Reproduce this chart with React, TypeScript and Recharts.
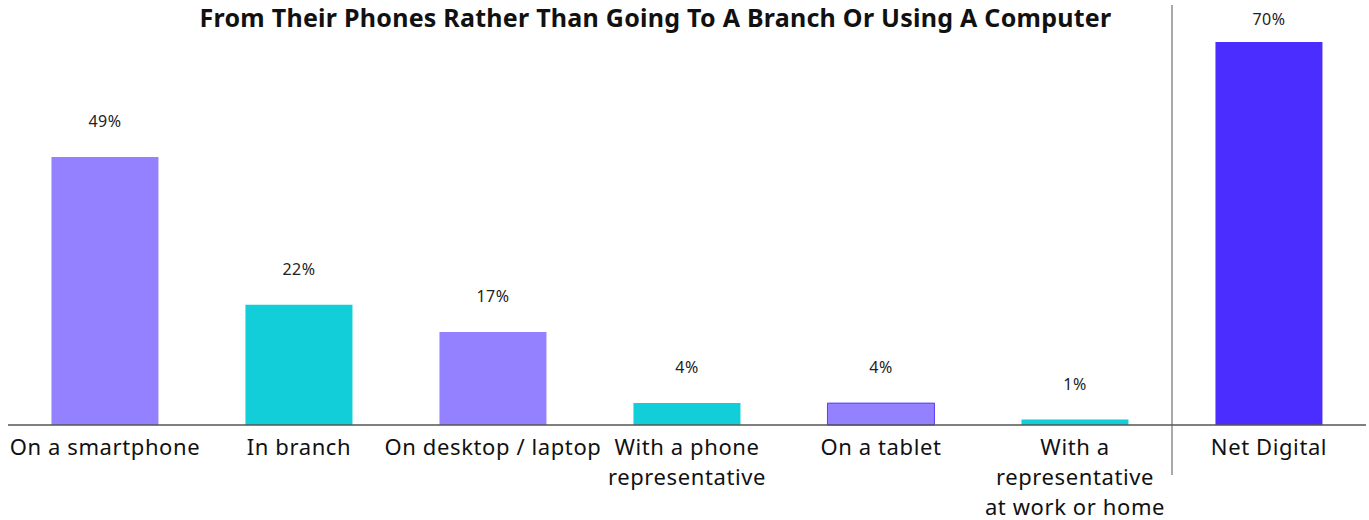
import React from "react";
import { Bar, BarChart, Cell, LabelList, ReferenceLine, XAxis, YAxis } from "recharts";

const categories = [
  ["On a smartphone"],
  ["In branch"],
  ["On desktop / laptop"],
  ["With a phone", "representative"],
  ["On a tablet"],
  ["With a", "representative", "at work or home"],
  ["Net Digital"],
];
const shares = [49, 22, 17, 4, 4, 1, 70];
const barColors = ["#9381FF", "#11CED8", "#9381FF", "#11CED8", "#9381FF", "#11CED8", "#4B2EFF"];
const barStrokes = ["none", "none", "none", "none", "#5B3DF5", "none", "none"];

const TITLE = "From Their Phones Rather Than Going To A Branch Or Using A Computer";
const FONT = "'Noto Sans', sans-serif";

const data = categories.map((lines, i) => ({ name: lines.join(" "), lines, value: shares[i] }));

function Tick({ x, y, payload }: any) {
  const row = data.find((d) => d.name === payload.value);
  const lines = row ? row.lines : [payload.value];
  return (
    <text x={x} y={y} textAnchor="middle" fontFamily={FONT} fontSize={22} letterSpacing={0.6} fill="#111">
      {lines.map((l: string, i: number) => (
        <tspan key={i} x={x} dy={i === 0 ? 22 : 30}>
          {l}
        </tspan>
      ))}
    </text>
  );
}

function ValueLabel({ x, y, width, value }: any) {
  return (
    <text
      x={x + width / 2}
      y={Math.max(y - 36, 19)}
      textAnchor="middle"
      dominantBaseline="central"
      fontFamily={FONT}
      fontSize={16}
      letterSpacing={0.5}
      fill="#222"
    >
      {value}%
    </text>
  );
}

function Divider({ x1, x2, y1, y2 }: any) {
  return <line x1={x1} x2={x2} y1={Math.min(y1, y2) - 37} y2={Math.max(y1, y2) + 50} stroke="#555" strokeWidth={1} />;
}

export default function App() {
  return (
    <div style={{ position: "absolute", left: 0, top: 0, width: 1369, height: 520 }}>
      <div
        style={{
          position: "absolute",
          left: 0,
          width: 1311,
          top: 2,
          textAlign: "center",
          fontFamily: FONT,
          fontWeight: 700,
          fontSize: 25,
          letterSpacing: 0.25,
          color: "#111",
          lineHeight: "30px",
        }}
      >
        {TITLE}
      </div>
      <BarChart width={1369} height={520} data={data} margin={{ top: 42, right: 3, left: 8, bottom: 0 }} barCategoryGap="22.4%">
        <XAxis
          dataKey="name"
          height={95}
          interval={0}
          tickLine={false}
          axisLine={{ stroke: "#555", strokeWidth: 1.5 }}
          tick={<Tick />}
        />
        <YAxis hide domain={[0, 70]} />
        <ReferenceLine x="Net Digital" position="start" shape={<Divider />} ifOverflow="visible" />
        <Bar dataKey="value" isAnimationActive={false}>
          {data.map((d, i) => (
            <Cell key={d.name} fill={barColors[i]} stroke={barStrokes[i]} strokeWidth={1} />
          ))}
          <LabelList dataKey="value" content={<ValueLabel />} />
        </Bar>
      </BarChart>
    </div>
  );
}
